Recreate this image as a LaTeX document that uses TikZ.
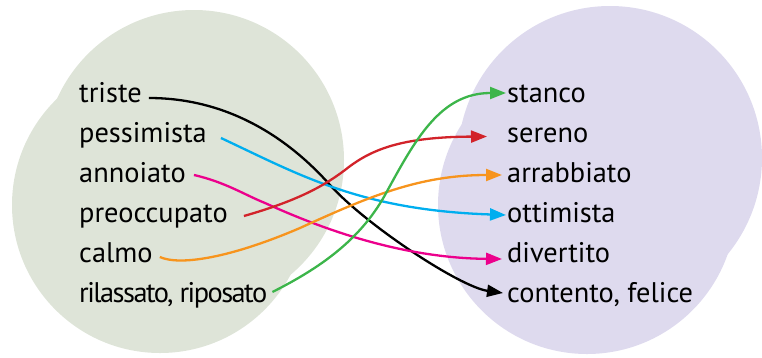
\documentclass[tikz,border=0pt]{standalone}
\usepackage{fontspec}
\setmainfont{PT Sans}
\usetikzlibrary{arrows.meta,calc}
\definecolor{leftblob}{RGB}{222,228,216}
\definecolor{rightblob}{RGB}{222,218,238}
\definecolor{cCyan}{RGB}{0,174,239}
\definecolor{cMagenta}{RGB}{236,0,140}
\definecolor{cRed}{RGB}{210,35,42}
\definecolor{cOrange}{RGB}{247,148,29}
\definecolor{cGreen}{RGB}{60,181,74}
\newlength\lenA
\newlength\lenB
\newlength\lenC
\newlength\lenD
\newlength\lenE
\begin{document}
\settowidth\lenA{\fontsize{10pt}{12pt}\selectfont preoccupato}%
\settowidth\lenB{\fontsize{10pt}{12pt}\selectfont contento, felice}%
\settowidth\lenC{\fontsize{10pt}{12pt}\selectfont pessimista}%
\pgfmathsetmacro\fs{(1530/\lenA + 1840/\lenB + 1250/\lenC)/3}%
\settowidth\lenD{\fontsize{\fs pt}{\fs pt}\selectfont rilassato, riposato}%
\settowidth\lenE{\fontsize{\fs pt}{\fs pt}\selectfont\addfontfeatures{LetterSpace=-10}rilassato, riposato}%
\pgfmathsetmacro\ls{-10*(\lenD-188)/(\lenD-\lenE)}%
\begin{tikzpicture}[x=1pt,y=-1pt]
\tikzset{
  lbl/.style={font=\fontsize{\fs pt}{\fs pt}\selectfont, inner sep=0pt, anchor=base west, text=black},
  conn/.style={line width=2.3pt, -{Triangle[length=16pt,width=12pt]}}
}
\useasboundingbox (0,0) rectangle (762,357);
\begin{scope}
\clip (0,0) rectangle (762,357);
\fill[leftblob] (194,160) circle[radius=150];
\fill[leftblob] (160,205) circle[radius=148];
\fill[rightblob] (610,158) circle[radius=152];
\fill[rightblob] (587,205) circle[radius=149];
\end{scope}
% left labels
\node[lbl] (triste) at (79,102.5) {triste};
\node[lbl] (pessimista) at (79,142.5) {pessimista};
\node[lbl] (annoiato) at (79,182.5) {annoiato};
\node[lbl] (preoccupato) at (79,222.5) {preoccupato};
\node[lbl] (calmo) at (79,262.5) {calmo};
\node[lbl] (rilassato) at (79,302.5) {\addfontfeatures{LetterSpace=\ls}rilassato, riposato};
% right labels
\node[lbl] (stanco) at (507,102.5) {stanco};
\node[lbl] (sereno) at (507,142.5) {sereno};
\node[lbl] (arrabbiato) at (507,182.5) {arrabbiato};
\node[lbl] (ottimista) at (507,222.5) {ottimista};
\node[lbl] (divertito) at (507,262.5) {divertito};
\node[lbl] (contento) at (507,302.5) {contento, felice};
% connector ends
\coordinate (s-triste) at ($(triste.base east)+(7,-4.5)$);
\coordinate (s-pessimista) at ($(pessimista.base east)+(14,-4.5)$);
\coordinate (s-annoiato) at ($(annoiato.base east)+(8,-7.5)$);
\coordinate (s-preoccupato) at ($(preoccupato.base east)+(16,-6.5)$);
\coordinate (s-calmo) at ($(calmo.base east)+(7,-5.5)$);
\coordinate (s-rilassato) at ($(rilassato.base east)+(5,-10.5)$);
\coordinate (e-stanco) at ($(stanco.base west)+(-1,-9.5)$);
\coordinate (e-sereno) at ($(sereno.base west)+(-20,-6)$);
\coordinate (e-arrabbiato) at ($(arrabbiato.base west)+(-5,-7.5)$);
\coordinate (e-ottimista) at ($(ottimista.base west)+(-1,-7.5)$);
\coordinate (e-divertito) at ($(divertito.base west)+(-5,-3.5)$);
\coordinate (e-contento) at ($(contento.base west)+(-4,-9.5)$);
% connectors
\draw[conn,black] (s-triste) .. controls (230,98) and (290,140) .. (330,185)
  .. controls (366,225) and (460,287) .. (e-contento);
\draw[conn,cCyan] (s-pessimista) .. controls (300,175) and (360,210) .. (e-ottimista);
\draw[conn,cMagenta] (s-annoiato) .. controls (225,182) and (245,195) .. (265,203)
  .. controls (320,228) and (400,258) .. (e-divertito);
\draw[conn,cRed] (s-preoccupato) .. controls (300,200) and (325,185) .. (345,170)
  .. controls (370,150) and (400,137) .. (e-sereno);
\draw[conn,cOrange] (s-calmo) .. controls (180,266) and (230,258) .. (300,228)
  .. controls (370,196) and (420,175) .. (e-arrabbiato);
\draw[conn,cGreen] (s-rilassato) .. controls (320,268) and (360,240) .. (385,195)
  .. controls (415,140) and (440,93) .. (e-stanco);
\end{tikzpicture}
\end{document}
